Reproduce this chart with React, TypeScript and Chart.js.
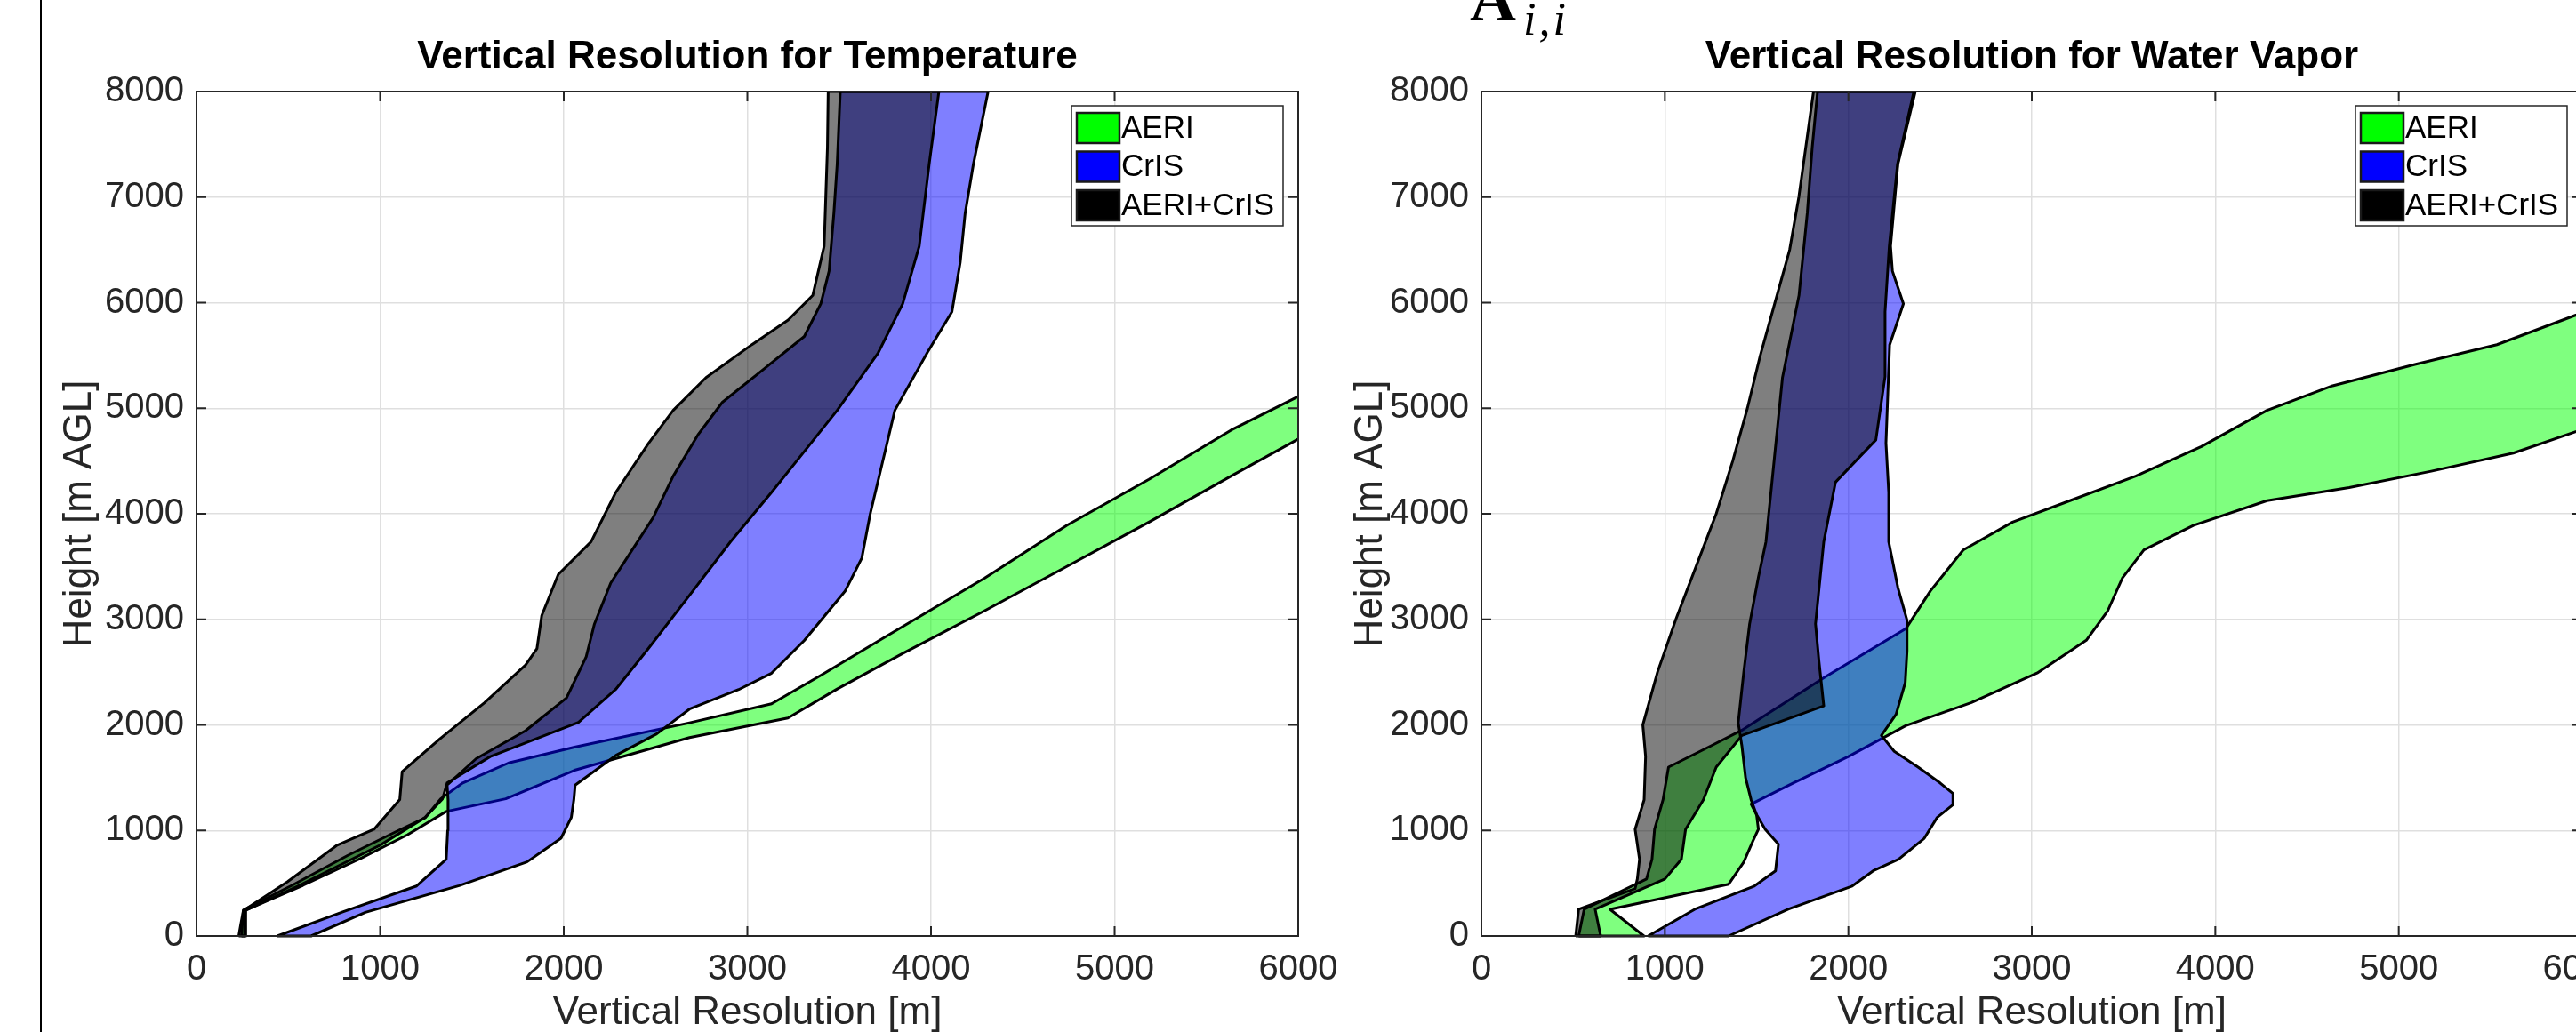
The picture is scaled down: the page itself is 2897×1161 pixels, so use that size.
import React, { useEffect, useRef } from 'react';
import { Chart, registerables } from 'chart.js';

Chart.register(...registerables);

type Pt = [number, number]; // [vertical resolution (m), height (m AGL)]

const seriesLabels = ['AERI', 'CrIS', 'AERI+CrIS'];
const legendColors = ['#00ff00', '#0000ff', '#000000'];
const fillColors = ['rgba(0,255,0,0.5)', 'rgba(0,0,255,0.5)', 'rgba(0,0,0,0.5)'];
const drawOrder = [2, 1, 0];
const xTickValues = [0, 1000, 2000, 3000, 4000, 5000, 6000];
const yTickValues = [0, 1000, 2000, 3000, 4000, 5000, 6000, 7000, 8000];

// ---------- Temperature ----------
const tempAeriLeft: Pt[] = [[245,0],[255,245],[520,480],[820,760],[1100,1000],[1245,1120],[1330,1300],[1450,1450],[1700,1640],[2059,1790],[2685,2020],[3132,2200],[3400,2470],[3757,2840],[4293,3392],[4740,3890],[5187,4326],[5634,4792],[5992,5104],[6300,5400]];
const tempAeriRight: Pt[] = [[268,0],[268,245],[580,480],[900,740],[1150,960],[1360,1180],[1684,1300],[2059,1570],[2685,1880],[3221,2065],[3489,2340],[3846,2677],[4293,3082],[4740,3501],[5187,3921],[5634,4357],[5992,4700],[6300,4980]];
const tempCrisLeft: Pt[] = [[440,0],[800,230],[1199,474],[1360,727],[1368,1000],[1370,1290],[1365,1430],[1523,1680],[1792,1945],[2015,2256],[2122,2645],[2167,2956],[2256,3345],[2372,3656],[2488,3967],[2596,4357],[2730,4746],[2864,5057],[3087,5368],[3310,5680],[3400,5991],[3445,6300],[3471,6847],[3489,7313],[3506,8000]];
const tempCrisRight: Pt[] = [[624,0],[920,224],[1430,477],[1800,702],[1985,926],[2041,1123],[2055,1292],[2062,1430],[2283,1710],[2506,1915],[2685,2150],[2953,2335],[3132,2490],[3310,2800],[3533,3270],[3623,3580],[3669,4000],[3803,4980],[3981,5530],[4114,5914],[4159,6380],[4186,6847],[4231,7313],[4311,8000]];
const tempBothLeft: Pt[] = [[230,0],[240,100],[255,240],[495,514],[763,857],[967,1011],[1107,1292],[1120,1557],[1326,1869],[1568,2210],[1792,2568],[1854,2724],[1880,3036],[1970,3425],[2149,3736],[2283,4202],[2462,4669],[2596,4980],[2775,5291],[3025,5603],[3222,5836],[3356,6069],[3418,6536],[3427,7003],[3436,7470],[3440,8000]];
const tempBothRight: Pt[] = [[262,0],[265,240],[560,480],[1000,860],[1245,1123],[1340,1300],[1365,1450],[1600,1700],[2080,2024],[2282,2335],[2461,2724],[2703,3268],[2908,3735],[3131,4202],[3310,4591],[3489,4980],[3712,5524],[3846,5991],[3936,6536],[3990,7313],[4043,8000]];

// ---------- Water vapor ----------
const wvAeriLeft: Pt[] = [[530,0],[560,253],[900,540],[930,727],[944,1011],[990,1291],[1020,1600],[1250,1800],[1420,1950],[1870,2450],[2313,2911],[2447,3268],[2626,3657],[2895,3921],[3208,4124],[3566,4357],[3924,4637],[4282,4980],[4640,5213],[5088,5415],[5535,5602],[5965,5882],[6251,5991],[6600,6150]];
const wvAeriRight: Pt[] = [[886,0],[701,253],[1348,491],[1430,700],[1480,900],[1510,1011],[1500,1150],[1470,1250],[1700,1450],[2000,1700],[2313,1993],[2671,2211],[3029,2491],[3297,2802],[3414,3082],[3494,3393],[3611,3658],[3880,3890],[4282,4124],[4730,4248],[5177,4403],[5624,4575],[5965,4778],[6251,4903],[6600,5020]];
const wvCrisLeft: Pt[] = [[909,0],[1163,253],[1488,473],[1603,617],[1619,870],[1547,1011],[1500,1150],[1470,1291],[1440,1500],[1420,1800],[1400,2020],[1430,2500],[1462,2956],[1510,3400],[1551,3735],[1596,4513],[1641,5291],[1731,6069],[1776,6847],[1803,7470],[1832,8000]];
const wvCrisRight: Pt[] = [[1348,0],[1672,253],[2021,473],[2135,617],[2274,727],[2414,926],[2484,1123],[2570,1243],[2570,1350],[2500,1450],[2380,1600],[2250,1750],[2180,1900],[2260,2100],[2310,2400],[2320,2700],[2320,2990],[2270,3300],[2220,3735],[2220,4200],[2205,4670],[2215,5135],[2225,5600],[2300,5990],[2240,6300],[2230,6536],[2270,7313],[2365,8000]];
const wvBothLeft: Pt[] = [[514,0],[530,253],[838,449],[850,540],[862,727],[838,1011],[887,1291],[895,1700],[880,2000],[960,2500],[1060,3000],[1170,3500],[1280,4000],[1370,4500],[1450,5000],[1520,5500],[1600,6000],[1680,6500],[1730,7000],[1770,7500],[1810,8000]];
const wvBothRight: Pt[] = [[650,0],[620,253],[1000,540],[1090,727],[1113,1011],[1210,1291],[1280,1600],[1420,1900],[1866,2180],[1840,2600],[1821,2956],[1866,3735],[1930,4300],[2150,4700],[2200,5300],[2200,5914],[2223,6536],[2268,7313],[2357,8000]];

const FONT = '"Liberation Sans", Arial, Helvetica, sans-serif';
const AXIS_COLOR = '#262626';

function polygon(leftEdge: Pt[], rightEdge: Pt[]) {
  const pts = [...leftEdge, ...[...rightEdge].reverse(), leftEdge[0]];
  return pts.map(([x, y]) => ({ x, y }));
}

const boxPlugin = {
  id: 'matlabBox',
  afterDatasetsDraw(chart: any) {
    const { ctx, chartArea } = chart;
    const { left, right, top, bottom } = chartArea;
    const xs = chart.scales.x;
    const ys = chart.scales.y;
    ctx.save();
    ctx.strokeStyle = AXIS_COLOR;
    ctx.lineWidth = 2;
    ctx.strokeRect(left, top, right - left, bottom - top);
    const tl = 11;
    ctx.beginPath();
    for (const v of xTickValues) {
      const px = xs.getPixelForValue(v);
      ctx.moveTo(px, bottom); ctx.lineTo(px, bottom - tl);
      ctx.moveTo(px, top); ctx.lineTo(px, top + tl);
    }
    for (const v of yTickValues) {
      const py = ys.getPixelForValue(v);
      ctx.moveTo(left, py); ctx.lineTo(left + tl, py);
      ctx.moveTo(right, py); ctx.lineTo(right - tl, py);
    }
    ctx.stroke();
    ctx.restore();
  },
};

const legendPlugin = {
  id: 'matlabLegend',
  afterDraw(chart: any) {
    const { ctx, chartArea } = chart;
    const w = 238, h = 135;
    const x = chartArea.right - 17 - w;
    const y = chartArea.top + 16;
    ctx.save();
    ctx.fillStyle = '#ffffff';
    ctx.fillRect(x, y, w, h);
    ctx.strokeStyle = AXIS_COLOR;
    ctx.lineWidth = 1.5;
    ctx.strokeRect(x, y, w, h);
    seriesLabels.forEach((label, i) => {
      const ry = y + 8 + i * 43.5;
      ctx.fillStyle = legendColors[i];
      ctx.fillRect(x + 6, ry, 48, 34);
      ctx.strokeStyle = '#1a1a1a';
      ctx.lineWidth = 2.5;
      ctx.strokeRect(x + 6, ry, 48, 34);
      ctx.fillStyle = '#000';
      ctx.font = `35px ${FONT}`;
      ctx.textBaseline = 'middle';
      ctx.textAlign = 'left';
      ctx.fillText(label, x + 56, ry + 18);
    });
    ctx.restore();
  },
};

type BandChartProps = {
  title: string;
  bands: [Pt[], Pt[]][];
  left: number;
  width: number;
  padRight: number;
  yTitlePad: number;
};

function BandChart({ title, bands, left, width, padRight, yTitlePad }: BandChartProps) {
  const ref = useRef<HTMLCanvasElement>(null);
  useEffect(() => {
    const chart = new Chart(ref.current as HTMLCanvasElement, {
      type: 'line',
      data: {
        datasets: bands.map((b, i) => ({
          label: seriesLabels[i],
          data: polygon(b[0], b[1]),
          borderColor: '#000',
          borderWidth: 3,
          backgroundColor: fillColors[i],
          fill: 'shape',
          pointRadius: 0,
          pointHoverRadius: 0,
          tension: 0,
          order: drawOrder[i],
          borderJoinStyle: 'round',
          clip: { left: 0, top: 0, right: 0, bottom: 4 },
        })) as any,
      },
      options: {
        animation: false,
        responsive: false,
        devicePixelRatio: 1,
        events: [],
        layout: { padding: { left: 0, right: padRight, top: 0, bottom: 0 }, autoPadding: false } as any,
        plugins: {
          legend: { display: false },
          tooltip: { enabled: false },
          title: {
            display: true,
            text: title,
            fullSize: false,
            color: '#000',
            font: { family: FONT, size: 44, weight: 'bold', lineHeight: 1.2 },
            padding: { top: 38.6, bottom: 11.6 },
          },
        },
        scales: {
          x: {
            type: 'linear',
            min: 0,
            max: 6000,
            afterBuildTicks: (s: any) => { s.ticks = xTickValues.map((v) => ({ value: v })); },
            afterFit: (s: any) => { s.height = 108; s.paddingLeft = 0; s.paddingRight = 0; },
            ticks: { color: AXIS_COLOR, font: { family: FONT, size: 40 }, padding: 14, maxRotation: 0, autoSkip: false, callback: (v: any) => String(v) },
            grid: { color: '#dfdfdf', lineWidth: 1.5, drawTicks: false },
            border: { display: false },
            title: { display: true, text: 'Vertical Resolution [m]', color: AXIS_COLOR, font: { family: FONT, size: 44 }, padding: { top: 0, bottom: -5 } },
          },
          y: {
            type: 'linear',
            min: 0,
            max: 8000,
            afterBuildTicks: (s: any) => { s.ticks = yTickValues.map((v) => ({ value: v })); },
            afterFit: (s: any) => { s.width = 166; s.paddingTop = 0; s.paddingBottom = 0; },
            ticks: { color: AXIS_COLOR, font: { family: FONT, size: 40 }, padding: 14, autoSkip: false, callback: (v: any) => String(v) },
            grid: { color: '#dfdfdf', lineWidth: 1.5, drawTicks: false },
            border: { display: false },
            title: { display: true, text: 'Height [m AGL]', color: AXIS_COLOR, font: { family: FONT, size: 44 }, padding: { top: yTitlePad, bottom: 0 } },
          },
        },
      } as any,
      plugins: [boxPlugin, legendPlugin],
    });
    return () => chart.destroy();
  }, []);
  return <canvas ref={ref} width={width} height={1161} style={{ position: 'absolute', left, top: 0 }} />;
}

export default function App() {
  return (
    <div style={{ position: 'absolute', left: 0, top: 0, width: 2897, height: 1161, overflow: 'hidden', background: '#fff' }}>
      <div style={{ position: 'absolute', left: 45, top: 0, width: 2, height: 1161, background: '#000' }} />
      <BandChart
        title="Vertical Resolution for Temperature"
        bands={[[tempAeriLeft, tempAeriRight], [tempCrisLeft, tempCrisRight], [tempBothLeft, tempBothRight]]}
        left={55}
        width={1485}
        padRight={80}
        yTitlePad={8}
      />
      <BandChart
        title="Vertical Resolution for Water Vapor"
        bands={[[wvAeriLeft, wvAeriRight], [wvCrisLeft, wvCrisRight], [wvBothLeft, wvBothRight]]}
        left={1500}
        width={1464}
        padRight={60}
        yTitlePad={15}
      />
      <div style={{ position: 'absolute', left: 1653, top: -37, fontFamily: '"Liberation Serif", "DejaVu Serif", serif', fontWeight: 'bold', fontSize: 72, lineHeight: 1, color: '#000' }}>A</div>
      <div style={{ position: 'absolute', left: 1713, top: -4, fontFamily: '"Liberation Serif", "DejaVu Serif", serif', fontStyle: 'italic', fontSize: 52, lineHeight: 1, letterSpacing: 3, color: '#000' }}>i,i</div>
    </div>
  );
}
